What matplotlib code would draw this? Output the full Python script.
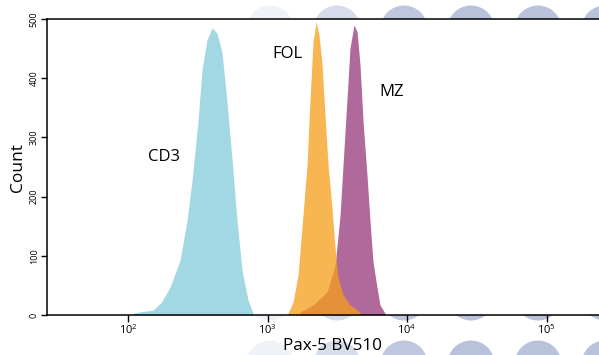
import numpy as np
import matplotlib
matplotlib.use("Agg")
import matplotlib.pyplot as plt
from matplotlib.patches import Ellipse

plt.rcParams['font.family'] = ['Open Sans', 'DejaVu Sans']

# histogram data: log10 intensity vs count
cd3_log = [2.036, 2.10, 2.179, 2.24, 2.301, 2.373, 2.423, 2.459, 2.502, 2.530, 2.566,
           2.602, 2.638, 2.674, 2.710, 2.746, 2.781, 2.817, 2.860, 2.896]
cd3_count = [3, 6, 8, 22, 47, 93, 160, 228, 329, 414, 465,
             485, 476, 443, 358, 262, 160, 76, 25, 3]

fol_log = [3.147, 3.183, 3.219, 3.254, 3.283, 3.305, 3.326, 3.348, 3.369, 3.391,
           3.412, 3.434, 3.462, 3.484, 3.505, 3.541, 3.591, 3.663]
fol_count = [3, 22, 68, 169, 253, 367, 461, 495, 473, 422,
             338, 253, 181, 113, 63, 34, 17, 5]

mz_log = [3.233, 3.326, 3.427, 3.484, 3.520, 3.541, 3.570, 3.591, 3.620, 3.642,
          3.663, 3.685, 3.713, 3.735, 3.756, 3.785, 3.806, 3.842]
mz_count = [5, 17, 39, 84, 169, 253, 367, 451, 490, 478,
            422, 326, 236, 157, 90, 46, 17, 3]

labels = ["CD3", "FOL", "MZ"]
x_ticks = [2, 3, 4, 5]
y_ticks = [0, 100, 200, 300, 400, 500]

fig = plt.figure(figsize=(5.99, 3.55), dpi=100)
ax = fig.add_axes([47 / 599, 1 - 315 / 355, 1 - 47 / 599, 296 / 355])
ax.set_facecolor('white')

# decorative circle grid behind the chart
W, H = 599, 355
r = 23.5
for cx in range(270, 640, 67):
    for cy in [29, 297, 364]:
        a = min(max((cx - 230) / 190, 0), 1)
        fig.patches.append(Ellipse((cx / W, 1 - cy / H), 2 * r / W, 2 * r / H,
                                   transform=fig.transFigure, facecolor=(0.72, 0.76, 0.86),
                                   alpha=a, edgecolor='none', zorder=-10))

ax.fill_between(10 ** np.array(cd3_log), cd3_count, color='#a2d8e4', lw=0)
ax.fill_between(10 ** np.array(mz_log), mz_count, color='#b0699b', lw=0)
ax.fill_between(10 ** np.array(fol_log), fol_count, color='#f59f1b', alpha=0.76, lw=0)

ax.set_xscale('log')
ax.set_xlim(10 ** 1.419, 10 ** 5.376)
ax.set_ylim(0, 500)
ax.set_xticks([10 ** t for t in x_ticks])
ax.set_xticklabels([r'$\mathregular{10^{%d}}$' % t for t in x_ticks])
ax.xaxis.set_minor_locator(matplotlib.ticker.NullLocator())
ax.set_yticks(y_ticks)
ax.set_yticklabels([str(v) for v in y_ticks], rotation=90, va='center')
ax.tick_params(axis='x', labelsize=8, length=5, pad=1, width=1)
ax.tick_params(axis='y', labelsize=6.5, length=4, pad=2, width=1)
ax.spines['right'].set_visible(False)
for s in ['left', 'top', 'bottom']:
    ax.spines[s].set_linewidth(1.1)

ax.set_ylabel("Count", fontsize=12.5, labelpad=3)
ax.set_xlabel("Pax-5 BV510", fontsize=12.3)
ax.xaxis.label.set_va('center')
ax.xaxis.set_label_coords((332 - 47) / 552, -31 / 296)

ax.text(10 ** (2 + (164 - 128) / 139.5), 267, labels[0], fontsize=12, ha='center', va='center')
ax.text(10 ** (2 + (287 - 128) / 139.5), 441, labels[1], fontsize=12, ha='center', va='center')
ax.text(10 ** (2 + (392 - 128) / 139.5), 376, labels[2], fontsize=12, ha='center', va='center')

plt.savefig("out.png", dpi=100)
